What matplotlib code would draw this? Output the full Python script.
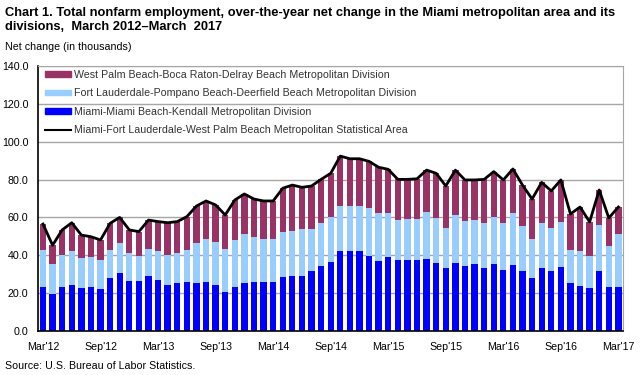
import matplotlib
matplotlib.use('Agg')
import matplotlib.pyplot as plt
from matplotlib.patches import Patch
from matplotlib.lines import Line2D

plt.rcParams['font.family'] = ['Liberation Sans', 'DejaVu Sans']

# months Mar 2012 - Mar 2017
months = ['Mar\'12', 'Apr\'12', 'May\'12', 'Jun\'12', 'Jul\'12', 'Aug\'12', 'Sep\'12', 'Oct\'12', 'Nov\'12', 'Dec\'12',
          'Jan\'13', 'Feb\'13', 'Mar\'13', 'Apr\'13', 'May\'13', 'Jun\'13', 'Jul\'13', 'Aug\'13', 'Sep\'13', 'Oct\'13',
          'Nov\'13', 'Dec\'13', 'Jan\'14', 'Feb\'14', 'Mar\'14', 'Apr\'14', 'May\'14', 'Jun\'14', 'Jul\'14', 'Aug\'14',
          'Sep\'14', 'Oct\'14', 'Nov\'14', 'Dec\'14', 'Jan\'15', 'Feb\'15', 'Mar\'15', 'Apr\'15', 'May\'15', 'Jun\'15',
          'Jul\'15', 'Aug\'15', 'Sep\'15', 'Oct\'15', 'Nov\'15', 'Dec\'15', 'Jan\'16', 'Feb\'16', 'Mar\'16', 'Apr\'16',
          'May\'16', 'Jun\'16', 'Jul\'16', 'Aug\'16', 'Sep\'16', 'Oct\'16', 'Nov\'16', 'Dec\'16', 'Jan\'17', 'Feb\'17',
          'Mar\'17']

# Miami-Miami Beach-Kendall
miami = [23.4, 19.5, 23.4, 24.3, 22.9, 23.4, 22.2, 28.2, 30.8, 26.4,
         26.4, 29.1, 27.0, 24.3, 25.4, 25.9, 25.4, 25.9, 24.3, 20.6,
         23.4, 25.5, 26.1, 26.1, 26.1, 28.7, 29.1, 29.1, 31.7, 34.3,
         36.5, 42.3, 42.3, 42.3, 39.6, 37.0, 39.1, 37.5, 37.5, 37.5,
         38.0, 35.9, 33.3, 35.9, 34.3, 35.4, 33.3, 35.4, 32.2, 34.9,
         31.7, 28.0, 33.3, 31.7, 33.8, 25.4, 23.8, 22.7, 31.7, 23.3,
         23.3]

# Fort Lauderdale-Pompano Beach-Deerfield Beach
ftl = [19.4, 15.9, 16.7, 18.0, 15.7, 15.7, 15.3, 14.6, 15.7, 14.8,
       13.2, 14.2, 15.3, 15.8, 15.8, 16.9, 21.1, 22.7, 22.7, 22.7,
       24.7, 25.7, 23.5, 22.5, 22.5, 23.6, 23.7, 24.8, 22.2, 22.8,
       23.7, 23.7, 23.7, 23.7, 25.4, 25.3, 23.2, 21.1, 21.7, 21.7,
       24.9, 23.8, 21.1, 25.4, 23.8, 23.2, 23.8, 24.8, 24.9, 27.4,
       23.8, 20.6, 23.8, 22.7, 23.8, 17.4, 18.5, 16.9, 24.3, 21.6,
       27.9]

# West Palm Beach-Boca Raton-Delray Beach
wpb = [13.7, 9.9, 13.3, 14.9, 12.1, 10.7, 10.6, 14.1, 13.5, 12.2,
       12.9, 15.3, 15.5, 17.1, 16.6, 17.6, 19.5, 20.1, 19.6, 18.0,
       21.1, 21.2, 20.1, 20.1, 20.1, 23.1, 24.3, 22.0, 22.7, 23.0,
       23.1, 26.4, 25.0, 25.0, 24.6, 24.2, 23.1, 21.5, 20.9, 21.2,
       22.1, 23.6, 22.2, 23.7, 21.7, 21.2, 23.0, 24.0, 22.7, 23.3,
       21.6, 21.1, 21.4, 19.6, 22.2, 19.0, 23.2, 18.0, 18.5, 14.8,
       14.3]

# Miami-Fort Lauderdale-West Palm Beach MSA
msa = [56.5, 45.3, 53.4, 57.2, 50.7, 49.8, 48.1, 56.9, 60.0, 53.4,
       52.5, 58.6, 57.8, 57.2, 57.8, 60.4, 66.0, 68.7, 66.6, 61.3,
       69.2, 72.4, 69.7, 68.7, 68.7, 75.4, 77.1, 75.9, 76.6, 80.1,
       83.3, 92.4, 91.0, 91.0, 89.6, 86.5, 85.4, 80.1, 80.1, 80.4,
       85.0, 83.3, 76.6, 85.0, 79.8, 79.8, 80.1, 84.2, 79.8, 85.6,
       77.1, 69.7, 78.5, 74.0, 79.8, 61.8, 65.5, 57.6, 74.5, 59.7,
       65.5]

c_miami = '#0000FF'
c_ftl = '#99CCFF'
c_wpb = '#993366'
small = 7.7

fig = plt.figure(figsize=(6.43, 3.75), dpi=100)
ax = fig.add_axes([38 / 643, 44 / 375, 585 / 643, 265 / 375])

x = list(range(len(months)))
bottom2 = [a + b for a, b in zip(miami, ftl)]
ax.bar(x, miami, width=0.66, color=c_miami, zorder=2)
ax.bar(x, ftl, width=0.66, bottom=miami, color=c_ftl, zorder=2)
ax.bar(x, wpb, width=0.66, bottom=bottom2, color=c_wpb, zorder=2)
ax.plot(x, msa, color='black', linewidth=2, zorder=3)

ax.set_xlim(-0.52, 60.48)
ax.set_ylim(0, 140)
ax.set_yticks(range(0, 141, 20))
ax.set_yticklabels([f'{v:.1f}' for v in range(0, 141, 20)])
ax.set_xticks(x[::6])
ax.set_xticklabels(months[::6])
ax.tick_params(length=0, labelsize=small, colors='black')
ax.tick_params(axis='y', pad=7)
ax.tick_params(axis='x', pad=8)
ax.grid(axis='y', color='#A6A6A6', linewidth=1, zorder=0)
ax.set_axisbelow(True)
for s in ['top', 'right']:
    ax.spines[s].set_color('#A6A6A6')
for s in ['left', 'bottom']:
    ax.spines[s].set_color('black')
    ax.spines[s].set_linewidth(1.2)

handles = [Patch(color=c_wpb), Patch(color=c_ftl), Patch(color=c_miami),
           Line2D([0], [0], color='black', linewidth=1.5)]
labels = ['West Palm Beach-Boca Raton-Delray Beach Metropolitan Division',
          'Fort Lauderdale-Pompano Beach-Deerfield Beach Metropolitan Division',
          'Miami-Miami Beach-Kendall Metropolitan Division',
          'Miami-Fort Lauderdale-West Palm Beach Metropolitan Statistical Area']
ax.legend(handles, labels, loc='upper left', bbox_to_anchor=(0.012, 0.985), frameon=False,
          fontsize=small, borderpad=0, borderaxespad=0, handlelength=2.4, handleheight=0.45,
          handletextpad=0.3, labelspacing=0.78, labelcolor='#333333')

fig.text(0.008, 0.982, 'Chart 1. Total nonfarm employment, over-the-year net change in the Miami metropolitan area and its\n'
         'divisions,  March 2012\u2013March  2017', fontsize=9.3, fontweight='bold', va='top', ha='left',
         linespacing=1.3)
fig.text(0.008, 0.874, 'Net change (in thousands)', fontsize=small, va='center', ha='left')
fig.text(0.008, 0.024, 'Source: U.S. Bureau of Labor Statistics.', fontsize=small, va='center', ha='left')

fig.savefig('out.png', dpi=100)
